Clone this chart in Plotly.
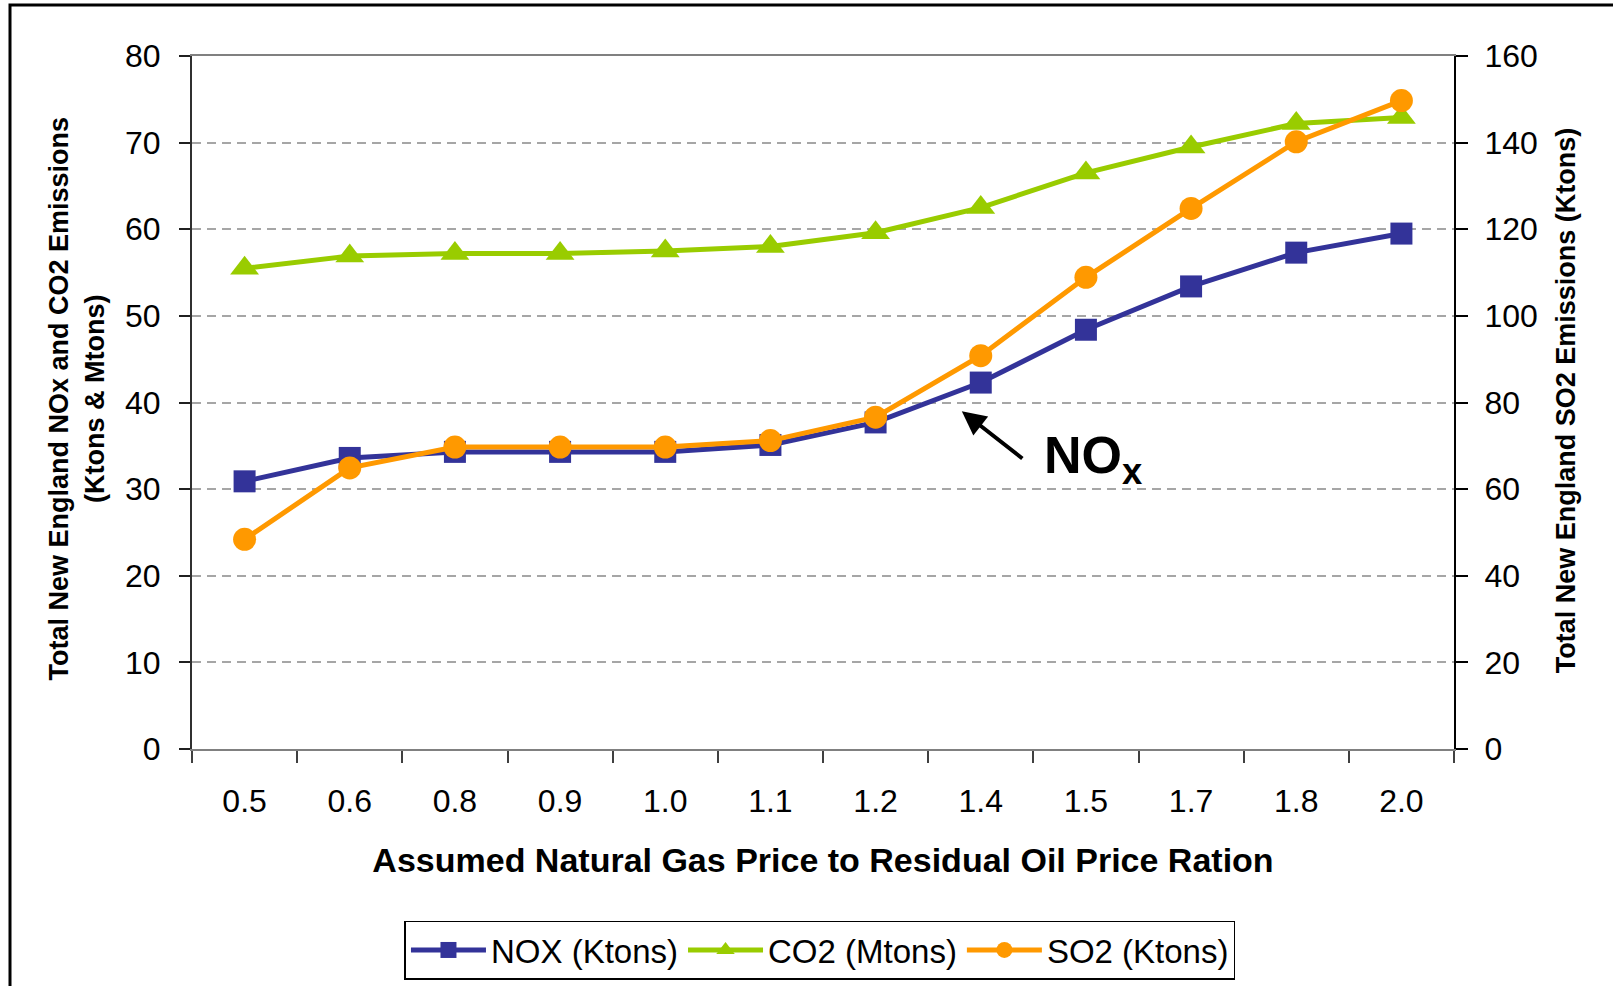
import plotly.graph_objects as go

# Gas-to-oil price ratio scenarios
ratios = ["0.5", "0.6", "0.8", "0.9", "1.0", "1.1", "1.2", "1.4", "1.5", "1.7", "1.8", "2.0"]

# Emissions by scenario
nox_ktons = [30.9, 33.6, 34.3, 34.3, 34.3, 35.1, 37.7, 42.3, 48.4, 53.4, 57.3, 59.5]
co2_mtons = [55.5, 56.9, 57.2, 57.2, 57.5, 58.0, 59.6, 62.5, 66.5, 69.5, 72.2, 72.9]
so2_ktons = [48.4, 64.9, 69.7, 69.7, 69.7, 71.2, 76.6, 90.8, 108.9, 124.8, 140.2, 149.7]

left_ticks = [0, 10, 20, 30, 40, 50, 60, 70, 80]
right_ticks = [0, 20, 40, 60, 80, 100, 120, 140, 160]

FONT = "Arial, Liberation Sans, sans-serif"
NAVY = "#333399"
LIME = "#99CC00"
ORANGE = "#FF9900"

fig = go.Figure()

fig.add_trace(go.Scatter(
    x=ratios, y=nox_ktons, name="NOX (Ktons)", mode="lines+markers",
    line=dict(color=NAVY, width=5),
    marker=dict(symbol="square", size=22, color=NAVY),
))
fig.add_trace(go.Scatter(
    x=ratios, y=co2_mtons, name="CO2 (Mtons)", mode="lines+markers",
    line=dict(color=LIME, width=5),
    marker=dict(symbol="triangle-up", size=25, color=LIME),
))
fig.add_trace(go.Scatter(
    x=ratios, y=so2_ktons, name="SO2 (Ktons)", mode="lines+markers", yaxis="y2",
    line=dict(color=ORANGE, width=5),
    marker=dict(symbol="circle", size=23, color=ORANGE),
))

fig.update_layout(
    width=1613, height=986,
    margin=dict(l=192, r=159, t=56, b=237, autoexpand=False),
    paper_bgcolor="white", plot_bgcolor="white",
    font=dict(family=FONT, color="black", size=32),
    showlegend=True,
    legend=dict(
        orientation="h", x=0.4976, xanchor="center", y=-0.2475, yanchor="top",
        bordercolor="black", borderwidth=1.5, bgcolor="white",
        font=dict(size=33, family=FONT), itemwidth=75, tracegroupgap=0,
    ),
    xaxis=dict(
        type="category", range=[-0.5, 11.5], automargin=False,
        tickson="boundaries", ticks="outside", ticklen=12, tickcolor="#404040", tickwidth=1.5,
        showline=True, linecolor="#808080", linewidth=2, mirror=True,
        showgrid=False, tickfont=dict(size=32), ticklabelstandoff=23,
        title=dict(text="<b>Assumed Natural Gas Price to Residual Oil Price Ration</b>",
                   font=dict(size=34), standoff=30),
    ),
    yaxis=dict(
        range=[0, 80], tickvals=left_ticks, automargin=False,
        ticks="outside", ticklen=11, tickcolor="#202020", tickwidth=1.5,
        showline=True, linecolor="#303030", linewidth=2,
        showgrid=True, gridcolor="#A6A6A6", gridwidth=1.5, griddash="9px,6px",
        zeroline=False, tickfont=dict(size=32), ticklabelstandoff=12,
    ),
    yaxis2=dict(
        range=[0, 160], tickvals=right_ticks, overlaying="y", side="right", automargin=False,
        ticks="outside", ticklen=12, tickcolor="black", tickwidth=1.5,
        showline=True, linecolor="black", linewidth=2,
        showgrid=False, zeroline=False, tickfont=dict(size=32), ticklabelstandoff=10,
    ),
)

# Axis titles for the two value scales
fig.add_annotation(
    xref="paper", yref="paper", x=-0.0915, y=0.505, xanchor="center", yanchor="middle",
    textangle=-90, showarrow=False,
    text="<b>Total New England NOx and CO2 Emissions<br>(Ktons &amp; Mtons)</b>",
    font=dict(size=27, family=FONT),
)
fig.add_annotation(
    xref="paper", yref="paper", x=1.0887, y=0.503, xanchor="center", yanchor="middle",
    textangle=-90, showarrow=False,
    text="<b>Total New England SO2 Emissions (Ktons)</b>",
    font=dict(size=27, family=FONT),
)

# NOx callout with arrow
fig.add_annotation(
    xref="x", yref="y", x=6.82, y=39.0, ax=7.41, ay=33.4, axref="x", ayref="y",
    text="", showarrow=True, arrowhead=2, arrowsize=1.2, arrowwidth=4, arrowcolor="black",
)
fig.add_annotation(
    xref="x", yref="y", x=8.07, y=33.5, xanchor="center", yanchor="middle",
    showarrow=False, text="<b>NO<sub>x</sub></b>", font=dict(size=52, family=FONT),
)

# Outer chart frame
fig.add_shape(
    type="rect", xref="paper", yref="paper",
    x0=(10 - 192) / 1262, x1=(1640 - 192) / 1262,
    y0=(749 - 1010) / 693, y1=(749 - 5) / 693,
    line=dict(color="black", width=3), fillcolor="rgba(0,0,0,0)", layer="above",
)

fig.write_html("out.html")
